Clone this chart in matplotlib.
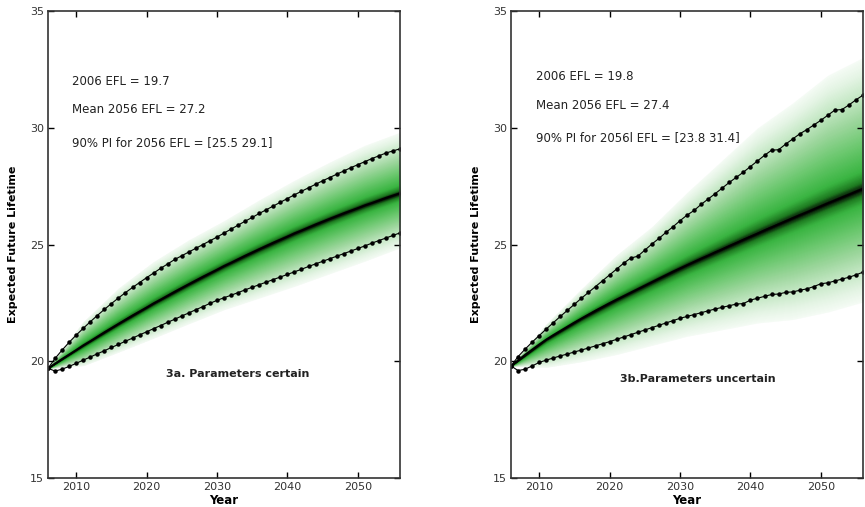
import matplotlib.pyplot as plt
import numpy as np
from matplotlib.colors import LinearSegmentedColormap

plt.rcParams['font.family'] = ['DejaVu Sans']

years = np.arange(2006, 2057)
years5 = np.arange(2006, 2057, 5)

# 3a. parameters certain
a_median = [19.70, 19.90, 20.10, 20.29, 20.48, 20.68, 20.86, 21.05, 21.24, 21.42,
            21.60, 21.78, 21.96, 22.13, 22.30, 22.48, 22.64, 22.81, 22.98, 23.14,
            23.30, 23.46, 23.62, 23.77, 23.92, 24.08, 24.22, 24.37, 24.52, 24.66,
            24.80, 24.94, 25.08, 25.21, 25.34, 25.48, 25.60, 25.73, 25.86, 25.98,
            26.10, 26.22, 26.34, 26.45, 26.56, 26.68, 26.78, 26.89, 27.00, 27.10,
            27.20]
a_upper = [19.70, 20.12, 20.48, 20.81, 21.12, 21.41, 21.69, 21.96, 22.22, 22.47,
           22.71, 22.94, 23.16, 23.37, 23.58, 23.78, 23.98, 24.17, 24.36, 24.52,
           24.68, 24.84, 25.00, 25.16, 25.32, 25.49, 25.66, 25.83, 26.00, 26.16,
           26.33, 26.49, 26.65, 26.81, 26.97, 27.13, 27.28, 27.43, 27.58, 27.73,
           27.87, 28.01, 28.15, 28.29, 28.42, 28.55, 28.68, 28.80, 28.92, 29.01,
           29.10]
a_lower = [19.70, 19.58, 19.66, 19.78, 19.91, 20.05, 20.18, 20.32, 20.45, 20.59,
           20.72, 20.86, 20.99, 21.13, 21.26, 21.40, 21.53, 21.67, 21.80, 21.94,
           22.07, 22.21, 22.34, 22.48, 22.61, 22.72, 22.83, 22.94, 23.06, 23.17,
           23.28, 23.39, 23.50, 23.61, 23.72, 23.83, 23.94, 24.06, 24.17, 24.28,
           24.39, 24.50, 24.61, 24.72, 24.83, 24.94, 25.06, 25.17, 25.28, 25.39,
           25.50]
# outer edge of the fan, every 5 years
a_fan_hi = [19.70, 21.68, 23.12, 24.26, 25.19, 26.01, 26.90, 27.74, 28.52, 29.24, 29.80]
a_fan_lo = [19.70, 19.82, 20.40, 21.00, 21.62, 22.22, 22.72, 23.22, 23.76, 24.30, 24.87]
a_text = ["2006 EFL = 19.7", "Mean 2056 EFL = 27.2", "90% PI for 2056 EFL = [25.5 29.1]"]

# 3b. parameters uncertain
b_median = [19.80, 20.04, 20.28, 20.50, 20.72, 20.93, 21.12, 21.30, 21.48, 21.66,
            21.83, 22.00, 22.17, 22.33, 22.49, 22.64, 22.79, 22.94, 23.09, 23.24,
            23.39, 23.54, 23.69, 23.84, 23.98, 24.12, 24.26, 24.40, 24.53, 24.67,
            24.80, 24.94, 25.07, 25.21, 25.34, 25.47, 25.61, 25.74, 25.87, 26.00,
            26.13, 26.26, 26.38, 26.51, 26.64, 26.77, 26.89, 27.02, 27.14, 27.27,
            27.39]
b_upper = [19.80, 20.20, 20.52, 20.82, 21.10, 21.38, 21.65, 21.92, 22.18, 22.44,
           22.70, 22.95, 23.20, 23.45, 23.70, 23.95, 24.20, 24.42, 24.50, 24.76,
           25.02, 25.26, 25.52, 25.76, 26.02, 26.26, 26.46, 26.72, 26.95, 27.18,
           27.42, 27.66, 27.88, 28.10, 28.34, 28.58, 28.82, 29.04, 29.06, 29.30,
           29.52, 29.74, 29.92, 30.12, 30.32, 30.54, 30.76, 30.78, 30.98, 31.20,
           31.40]
b_lower = [19.80, 19.60, 19.66, 19.80, 19.95, 20.05, 20.14, 20.23, 20.31, 20.40,
           20.48, 20.57, 20.66, 20.75, 20.84, 20.94, 21.04, 21.14, 21.24, 21.34,
           21.44, 21.54, 21.64, 21.74, 21.84, 21.92, 22.00, 22.08, 22.16, 22.24,
           22.31, 22.38, 22.45, 22.47, 22.62, 22.70, 22.78, 22.86, 22.88, 22.95,
           22.97, 23.04, 23.10, 23.20, 23.32, 23.36, 23.44, 23.52, 23.60, 23.70,
           23.82]
b_fan_hi = [19.80, 21.58, 23.09, 24.54, 25.75, 27.22, 28.60, 29.98, 31.05, 32.24, 33.00]
b_fan_lo = [19.80, 19.75, 19.99, 20.30, 20.69, 21.08, 21.36, 21.65, 21.80, 22.12, 22.55]
b_text = ["2006 EFL = 19.8", "Mean 2056 EFL = 27.4", "90% PI for 2056l EFL = [23.8 31.4]"]

# colour by relative distance from the median (0 = median, 1 = outer edge)
fan_cmap = LinearSegmentedColormap.from_list("fan", [
    (0.0, "#000000"), (0.02, "#0d300d"), (0.06, "#1f7d22"), (0.14, "#3ab542"),
    (0.35, "#6cc86f"), (0.56, "#9fd79f"), (0.74, "#c8e9c8"), (0.88, "#e4f4e4"),
    (1.0, "#f5fbf5")])


def draw_panel(ax, med, up, lo, fan_hi, fan_lo, texts, tx, ty, label, lx, ly):
    med5 = np.array(med)[::5]
    hi5 = np.array(fan_hi)
    lo5 = np.array(fan_lo)
    for k in np.linspace(1.0, 0.005, 100):
        ax.fill_between(years5, med5 - k * (med5 - lo5), med5 + k * (hi5 - med5),
                        color=fan_cmap(k), lw=0.3, ec=fan_cmap(k))
    ax.plot(years, med, color="black", lw=1.4)
    for s in (up, lo):
        ax.plot(years, s, color="black", lw=0.8, marker="o", ms=2.2)
    for t, y in zip(texts, ty):
        ax.text(tx, y, t, fontsize=8.5, va="center", color="#222222")
    ax.text(lx, ly, label, fontsize=8, fontweight="bold", va="center", color="#222222")

    ax.set_xlim(2006, 2056)
    ax.set_ylim(15, 35)
    ax.set_xticks([2010, 2020, 2030, 2040, 2050])
    ax.set_yticks([15, 20, 25, 30, 35])
    ax.tick_params(direction="in", top=True, right=True, length=4, width=1,
                   labelsize=8, labelcolor="#333333", pad=3)
    for sp in ax.spines.values():
        sp.set_color("#333333")
        sp.set_linewidth(1.2)
    ax.set_xlabel("Year", fontsize=8.5, fontweight="bold", labelpad=1)
    ax.set_ylabel("Expected Future Lifetime", fontsize=8, fontweight="bold")


fig = plt.figure(figsize=(8.65, 5.07), dpi=100)
ax1 = fig.add_axes([0.0555, 0.0572, 0.407, 0.921])
ax2 = fig.add_axes([0.5908, 0.0572, 0.407, 0.921])

draw_panel(ax1, a_median, a_upper, a_lower, a_fan_hi, a_fan_lo, a_text,
           2009.4, [32.0, 30.8, 29.35], "3a. Parameters certain", 2022.8, 19.45)
draw_panel(ax2, b_median, b_upper, b_lower, b_fan_hi, b_fan_lo, b_text,
           2009.5, [32.2, 30.97, 29.6], "3b.Parameters uncertain", 2021.5, 19.24)
ax1.yaxis.set_label_coords(-0.085, 0.5)
ax2.yaxis.set_label_coords(-0.085, 0.5)

fig.savefig("out.png", dpi=100, facecolor="white")
